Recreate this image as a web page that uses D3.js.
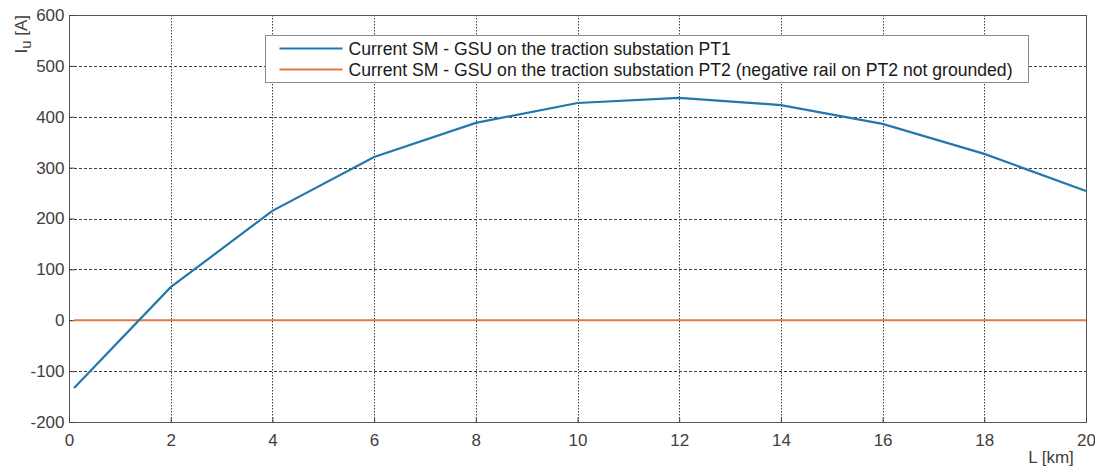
<!DOCTYPE html>
<html>
<head>
<meta charset="utf-8">
<script src="https://cdn.jsdelivr.net/npm/d3@7"></script>
<style>
  body { margin: 0; background: #fff; }
  svg { font-family: "Liberation Sans", Arial, sans-serif; }
</style>
</head>
<body>
<svg id="chart" width="1095" height="467"></svg>
<script>
var distance = [0.1, 2, 4, 6, 8, 10, 12, 14, 16, 18, 20];
var currentPT1 = [-133, 65, 215, 321, 388, 427, 437, 423, 386, 327, 254];
var currentPT2 = [0, 0, 0, 0, 0, 0, 0, 0, 0, 0, 0];
var xTicks = [0, 2, 4, 6, 8, 10, 12, 14, 16, 18, 20];
var yTicks = [-200, -100, 0, 100, 200, 300, 400, 500, 600];
var legendLabels = [
  "Current SM - GSU on the traction substation PT1",
  "Current SM - GSU on the traction substation PT2 (negative rail on PT2 not grounded)"
];
var colors = ["#2377ad", "#e07b45"];

var svg = d3.select("#chart");
var plotLeft = 69, plotRight = 1086, plotTop = 15, plotBottom = 422;

var x = d3.scaleLinear().domain([0, 20]).range([plotLeft, plotRight]);
var y = d3.scaleLinear().domain([-200, 600]).range([plotBottom, plotTop]);

// grid
var grid = svg.append("g").attr("stroke", "#2a2a2a").attr("stroke-width", 1);
grid.selectAll("line.h")
  .data(yTicks.slice(1, -1))
  .join("line")
  .attr("class", "h")
  .attr("x1", plotLeft).attr("x2", plotRight)
  .attr("y1", (d) => Math.round(y(d)) + 0.5).attr("y2", (d) => Math.round(y(d)) + 0.5)
  .attr("stroke-dasharray", "3,2")
  .attr("stroke-opacity", 0.9);
grid.selectAll("line.v")
  .data(xTicks.slice(1, -1))
  .join("line")
  .attr("class", "v")
  .attr("y1", plotTop).attr("y2", plotBottom)
  .attr("x1", (d) => Math.round(x(d)) + 0.5).attr("x2", (d) => Math.round(x(d)) + 0.5)
  .attr("stroke-dasharray", "1.5,1.5")
  .attr("stroke-opacity", 0.9);

// box
svg.append("rect")
  .attr("x", plotLeft + 0.5).attr("y", plotTop + 0.5)
  .attr("width", plotRight - plotLeft).attr("height", plotBottom - plotTop)
  .attr("fill", "none").attr("stroke", "#555").attr("stroke-width", 1);

// axes
var fmt = (d) => String(d);
var xAxis = svg.append("g")
  .attr("transform", `translate(0,${plotBottom + 0.5})`)
  .call(d3.axisBottom(x).tickValues(xTicks).tickFormat(fmt).tickSize(-5).tickPadding(11));
var yAxis = svg.append("g")
  .attr("transform", `translate(${plotLeft + 0.5},0)`)
  .call(d3.axisLeft(y).tickValues(yTicks).tickFormat(fmt).tickSize(-5).tickPadding(5));
[xAxis, yAxis].forEach(function (a) {
  a.select(".domain").remove();
  a.selectAll(".tick line").attr("stroke", "#444");
  a.selectAll(".tick text").attr("fill", "#404040").style("font-size", "17px")
    .style("font-family", "'Liberation Sans', Arial, sans-serif");
});
xAxis.selectAll(".tick text").attr("dy", "0.71em");

// axis labels
var yl = svg.append("text")
  .attr("transform", "translate(27,15) rotate(-90)")
  .attr("text-anchor", "end")
  .attr("fill", "#404040")
  .style("font-size", "17px");
yl.append("tspan").text("I");
yl.append("tspan").text("u").attr("dy", 4).style("font-size", "15px");
yl.append("tspan").text(" [A]").attr("dy", -4);

svg.append("text")
  .attr("x", 1051).attr("y", 463)
  .attr("text-anchor", "middle")
  .attr("fill", "#404040")
  .style("font-size", "17px")
  .text("L [km]");

// lines
var line = d3.line().x((d) => x(d[0])).y((d) => y(d[1]));
var series = [d3.zip(distance, currentPT1), d3.zip(distance, currentPT2)];
svg.append("g")
  .selectAll("path")
  .data([series[1], series[0]])
  .join("path")
  .attr("d", line)
  .attr("fill", "none")
  .attr("stroke", (d, i) => colors[1 - i])
  .attr("stroke-width", 2.2);

// legend
var lg = svg.append("g").attr("transform", "translate(265.5,35.5)");
lg.append("rect")
  .attr("width", 763).attr("height", 47)
  .attr("fill", "#fff").attr("stroke", "#888").attr("stroke-width", 1);
var item = lg.selectAll("g.item")
  .data(legendLabels)
  .join("g")
  .attr("class", "item")
  .attr("transform", (d, i) => `translate(0,${13 + i * 21})`);
item.append("line")
  .attr("x1", 14).attr("x2", 77)
  .attr("stroke", (d, i) => colors[i])
  .attr("stroke-width", 2.2);
item.append("text")
  .attr("x", 83).attr("dy", "0.35em")
  .attr("fill", "#1a1a1a")
  .style("font-size", "17.6px")
  .text((d) => d);
</script>
</body>
</html>
